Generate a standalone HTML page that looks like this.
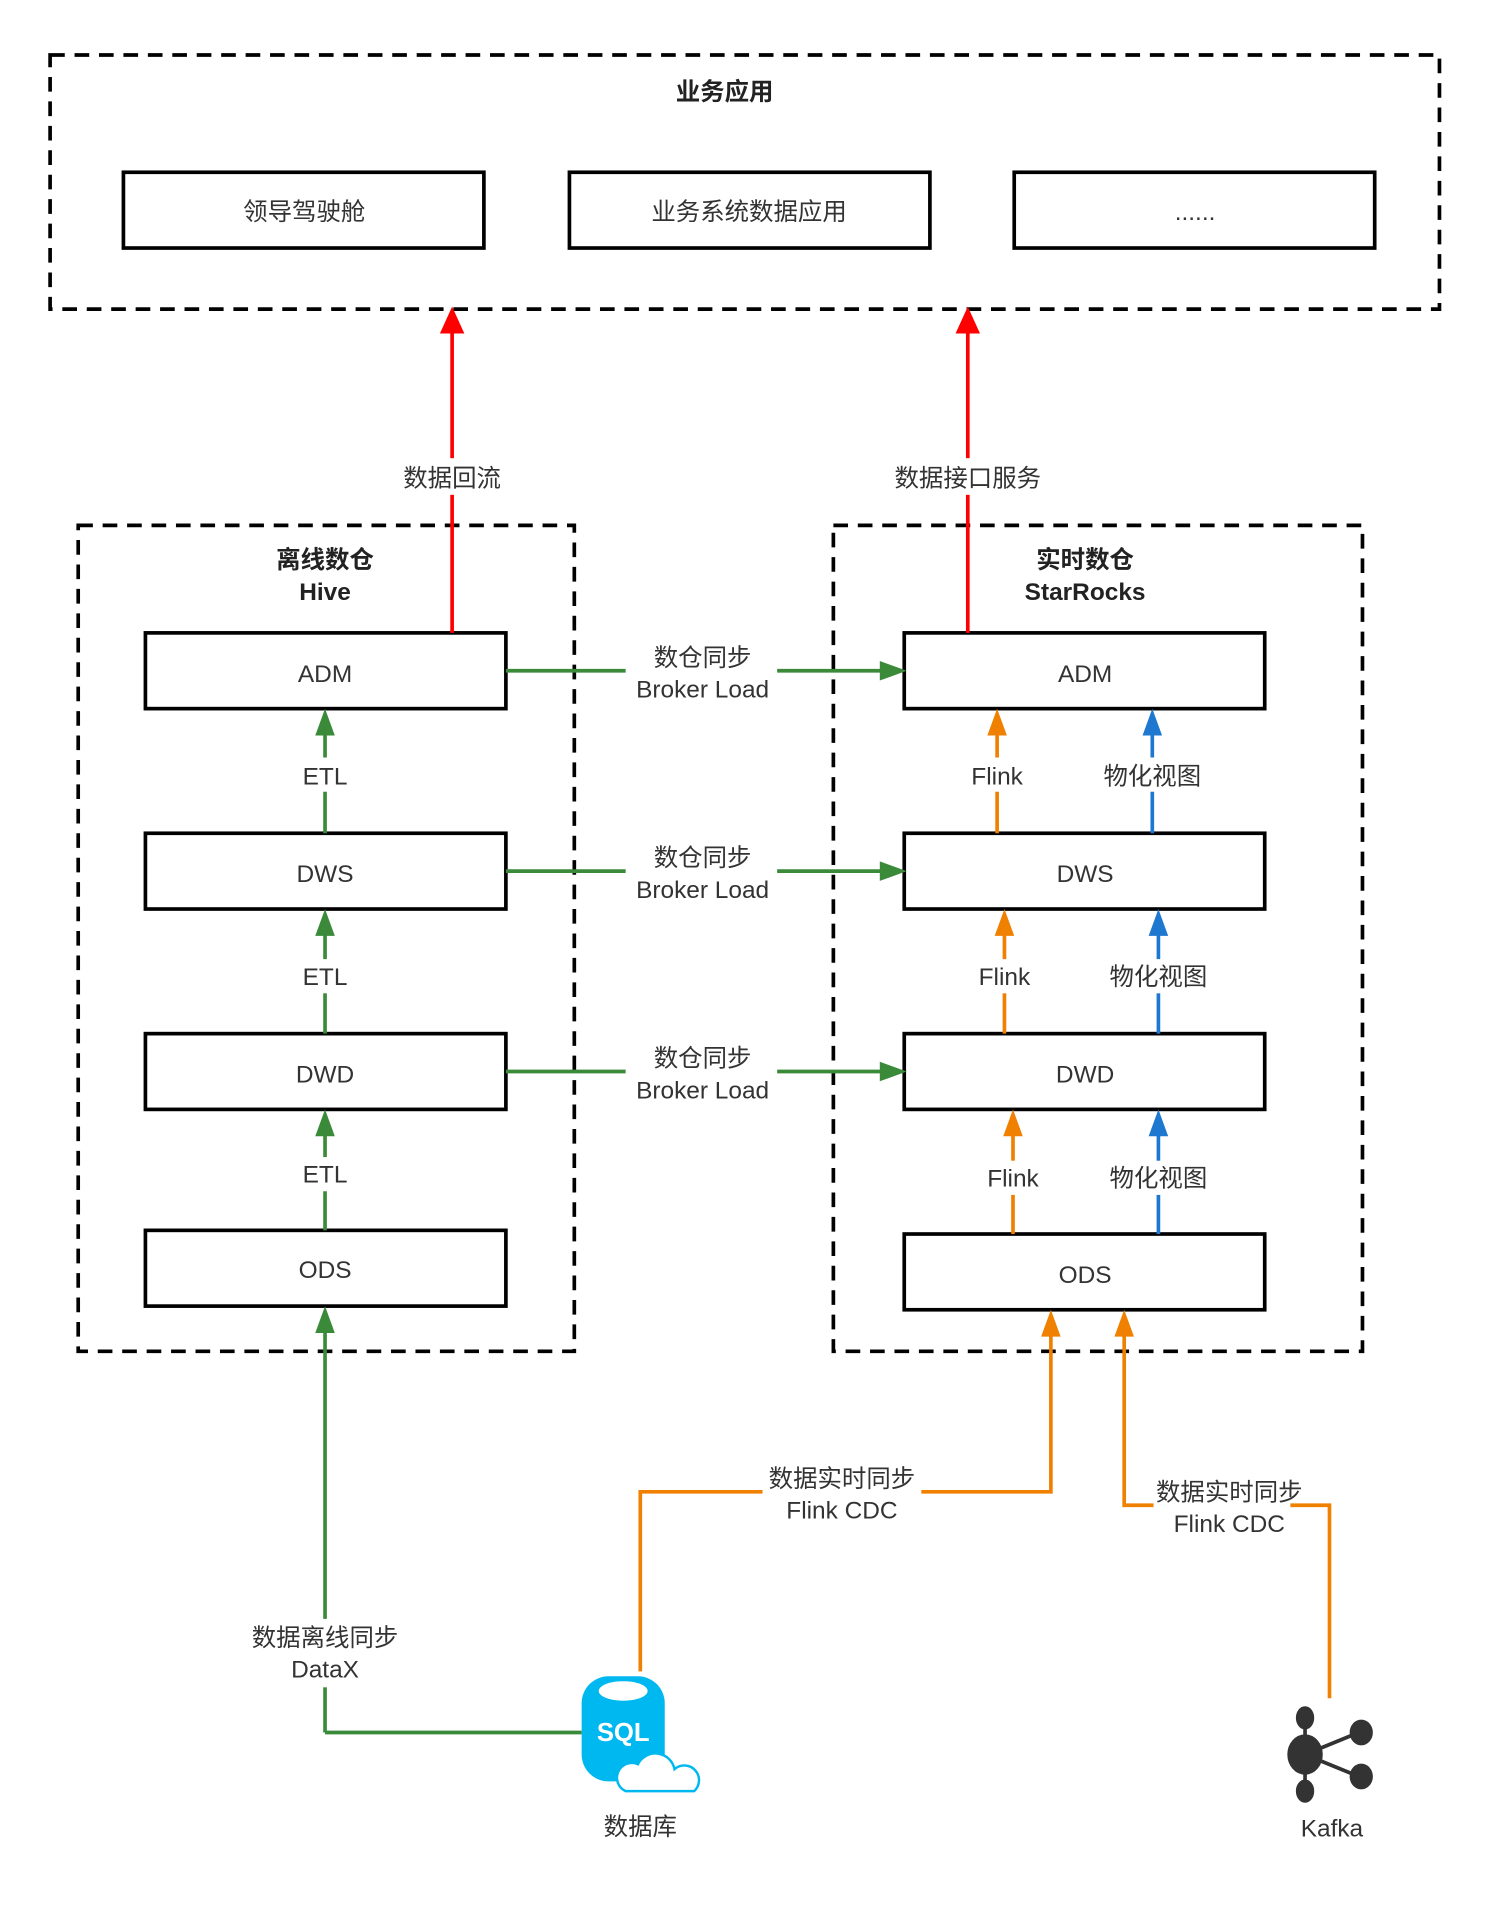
<!DOCTYPE html>
<html><head><meta charset="utf-8"><style>
html,body{margin:0;padding:0;background:#fff;}
svg{display:block}
text{font-family:"Liberation Sans","Noto Sans CJK SC",sans-serif;fill:#333;font-size:20px;text-anchor:middle}
.b{font-weight:bold;fill:#222}
</style></head><body>
<svg width="1503" height="1917" viewBox="0 0 1230 1569" preserveAspectRatio="none" xmlns="http://www.w3.org/2000/svg">
<g fill="none" stroke="#000" stroke-width="3">
<rect x="41" y="45" width="1137" height="208" stroke-dasharray="12,8"/>
<rect x="64" y="430" width="406" height="676" stroke-dasharray="12,8"/>
<rect x="682" y="430" width="433" height="676" stroke-dasharray="12,8"/>
<rect x="101" y="141" width="295" height="62"/>
<rect x="466" y="141" width="295" height="62"/>
<rect x="830" y="141" width="295" height="62"/>
<rect x="119" y="518" width="295" height="62"/>
<rect x="119" y="682" width="295" height="62"/>
<rect x="119" y="846" width="295" height="62"/>
<rect x="119" y="1007" width="295" height="62"/>
<rect x="740" y="518" width="295" height="62"/>
<rect x="740" y="682" width="295" height="62"/>
<rect x="740" y="846" width="295" height="62"/>
<rect x="740" y="1010" width="295" height="62"/>
</g>
<g stroke-width="3" fill="none">
<path d="M370 518V272M792 518V272" stroke="#f00"/>
<path d="M266 682V600M266 846V764M266 1007V928M266 1418V1090M266 1418H476" stroke="#3a8a3a"/>
<path d="M414 549H512M636 549H722M414 713H512M636 713H722M414 877H512M636 877H722" stroke="#3a8a3a"/>
<path d="M816 682V600M822 846V764M829 1010V928M524 1368V1221H624M754 1221H860V1092M1088 1390V1232H1056M944 1232H920V1092" stroke="#f08000"/>
<path d="M943 682V600M948 846V764M948 1010V928" stroke="#1e78d0"/>
</g>
<g>
<path d="M360 273L370 251L380 273Z M782 273L792 251L802 273Z" fill="#f00"/>
<path d="M258 602L266 580L274 602Z M258 766L266 744L274 766Z M258 930L266 908L274 930Z M258 1091L266 1069L274 1091Z" fill="#3a8a3a"/>
<path d="M720 541L742 549L720 557Z M720 705L742 713L720 721Z M720 869L742 877L720 885Z" fill="#3a8a3a"/>
<path d="M808 602L816 580L824 602Z M814 766L822 744L830 766Z M821 930L829 908L837 930Z M852 1094L860 1072L868 1094Z M912 1094L920 1072L928 1094Z" fill="#f08000"/>
<path d="M935 602L943 580L951 602Z M940 766L948 744L956 766Z M940 930L948 908L956 930Z" fill="#1e78d0"/>
</g>
<g fill="#fff" stroke="none">
<rect x="325" y="375" width="90" height="30"/><rect x="725" y="375" width="135" height="30"/>
<rect x="245" y="620" width="42" height="28"/><rect x="245" y="785" width="42" height="28"/><rect x="245" y="947" width="42" height="28"/>
<rect x="790" y="620" width="52" height="28"/><rect x="796" y="785" width="52" height="28"/><rect x="803" y="950" width="52" height="28"/>
<rect x="898" y="620" width="90" height="28"/><rect x="903" y="785" width="90" height="28"/><rect x="903" y="950" width="90" height="28"/>
<rect x="200" y="1325" width="132" height="56"/>
</g>
<text class="b" x="593" y="82">业务应用</text>
<text x="249" y="180">领导驾驶舱</text><text x="613" y="180">业务系统数据应用</text><text x="978" y="180">......</text>
<text x="370" y="398">数据回流</text><text x="792" y="398">数据接口服务</text>
<text class="b" x="266" y="465">离线数仓</text><text class="b" x="266" y="491">Hive</text>
<text class="b" x="888" y="465">实时数仓</text><text class="b" x="888" y="491">StarRocks</text>
<text x="266" y="558">ADM</text><text x="266" y="722">DWS</text><text x="266" y="886">DWD</text><text x="266" y="1046">ODS</text>
<text x="888" y="558">ADM</text><text x="888" y="722">DWS</text><text x="888" y="886">DWD</text><text x="888" y="1050">ODS</text>
<text x="266" y="642">ETL</text><text x="266" y="806">ETL</text><text x="266" y="968">ETL</text>
<text x="575" y="545">数仓同步</text><text x="575" y="571">Broker Load</text>
<text x="575" y="709">数仓同步</text><text x="575" y="735">Broker Load</text>
<text x="575" y="873">数仓同步</text><text x="575" y="899">Broker Load</text>
<text x="816" y="642">Flink</text><text x="822" y="806">Flink</text><text x="829" y="971">Flink</text>
<text x="943" y="642">物化视图</text><text x="948" y="806">物化视图</text><text x="948" y="971">物化视图</text>
<text x="689" y="1217">数据实时同步</text><text x="689" y="1243">Flink CDC</text>
<text x="1006" y="1228">数据实时同步</text><text x="1006" y="1254">Flink CDC</text>
<text x="266" y="1347">数据离线同步</text><text x="266" y="1373">DataX</text>
<text x="524" y="1502">数据库</text><text x="1090" y="1503">Kafka</text>
<g>
<rect x="476" y="1372" width="68" height="86" rx="22" fill="#00b8f0"/>
<ellipse cx="510" cy="1384" rx="20" ry="8" fill="#fff"/>
<text x="510" y="1425" style="fill:#fff;font-weight:bold;font-size:21px">SQL</text>
<path d="M512 1466 a12 12 0 0 1 10 -22 a16 16 0 0 1 30 4 a10 10 0 0 1 16 18Z" fill="#fff" stroke="#00b8f0" stroke-width="2"/>
</g>
<g fill="#333" stroke="#333" stroke-width="3">
<path d="M1068 1406V1466M1068 1436L1112 1418M1068 1436L1112 1454"/>
<ellipse cx="1068" cy="1406" rx="6" ry="8"/><ellipse cx="1068" cy="1466" rx="6" ry="8"/>
<ellipse cx="1068" cy="1436" rx="13" ry="15"/><ellipse cx="1114" cy="1418" rx="8" ry="9"/><ellipse cx="1114" cy="1454" rx="8" ry="9"/>
</g>
</svg>
</body></html>
